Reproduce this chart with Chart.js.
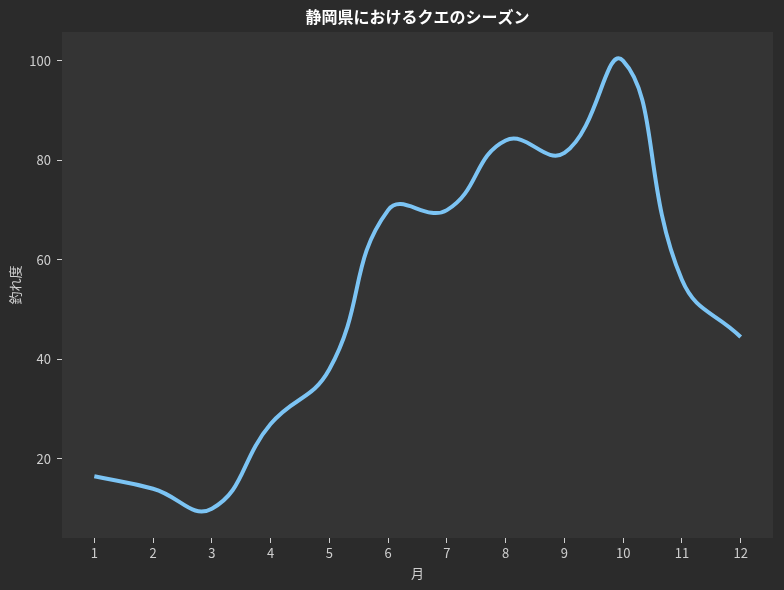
<!DOCTYPE html>
<html><head><meta charset="utf-8">
<script src="https://cdn.jsdelivr.net/npm/chart.js@4/dist/chart.umd.min.js"></script>
<style>html,body{margin:0;padding:0;background:#2b2b2b;}#wrap{width:784px;height:590px;}</style>
</head><body><div id="wrap"><canvas id="c" width="784" height="590"></canvas></div>
<script>
const months = [1,2,3,4,5,6,7,8,9,10,11,12];
const catchScore = [16.5,14,10,27,38,70,70,84,81.5,100,56,44.5];
const yTicks = [20,40,60,80,100];
const titleText = '静岡県におけるクエのシーズン';
const xLabel = '月';
const yLabel = '釣れ度';

const FONT = "'Noto Sans CJK JP', 'Noto Sans', sans-serif";
const plotBg = {
  id:'plotBg',
  beforeDraw(chart){
    const {ctx, chartArea:a} = chart;
    ctx.save();
    ctx.fillStyle = '#343434';
    ctx.fillRect(a.left, a.top, a.right-a.left, a.bottom-a.top);
    ctx.restore();
  },
  afterDraw(chart){
    const {ctx, chartArea:a} = chart;
    ctx.save();
    ctx.fillStyle = '#ffffff';
    ctx.font = "bold 16px " + FONT;
    ctx.textAlign = 'center';
    ctx.textBaseline = 'middle';
    ctx.fillText(titleText, (a.left + a.right)/2, 17);
    ctx.restore();
  }
};
Chart.defaults.color = '#cfcfcf';
Chart.defaults.font.family = FONT;
new Chart(document.getElementById('c'), {
  type:'line',
  data:{
    datasets:[{
      data: months.map((m,i)=>({x:m,y:catchScore[i]})),
      borderColor:'#7cc4f4',
      borderWidth:4,
      pointRadius:0,
      tension:0.45,
      fill:false,
      borderCapStyle:'butt'
    }]
  },
  options:{
    responsive:false,
    animation:false,
    layout:{padding:{left:0,right:11,top:32,bottom:0}},
    plugins:{
      legend:{display:false},
      tooltip:{enabled:false},
      title:{display:false}
    },
    scales:{
      x:{
        type:'linear', min:0.45, max:12.55,
        afterBuildTicks(s){ s.ticks = months.map(v=>({value:v})); },
        afterFit(s){ s.height = 52; },
        grid:{display:true,drawOnChartArea:false,drawTicks:true,tickLength:5,color:'#cfcfcf',lineWidth:1},
        border:{display:false},
        ticks:{color:'#cfcfcf',font:{size:13},padding:2,maxRotation:0},
        title:{display:true,text:xLabel,color:'#cfcfcf',font:{size:13},padding:{top:0,bottom:9}}
      },
      y:{
        type:'linear', min:4.1, max:105.8,
        afterBuildTicks(s){ s.ticks = yTicks.map(v=>({value:v})); },
        afterFit(s){ s.width = 62; },
        grid:{display:true,drawOnChartArea:false,drawTicks:true,tickLength:5,color:'#cfcfcf',lineWidth:1},
        border:{display:false},
        ticks:{color:'#cfcfcf',font:{size:13},padding:6},
        title:{display:true,text:yLabel,color:'#cfcfcf',font:{size:13},padding:{top:7,bottom:4}}
      }
    }
  },
  plugins:[plotBg]
});
</script></body></html>
